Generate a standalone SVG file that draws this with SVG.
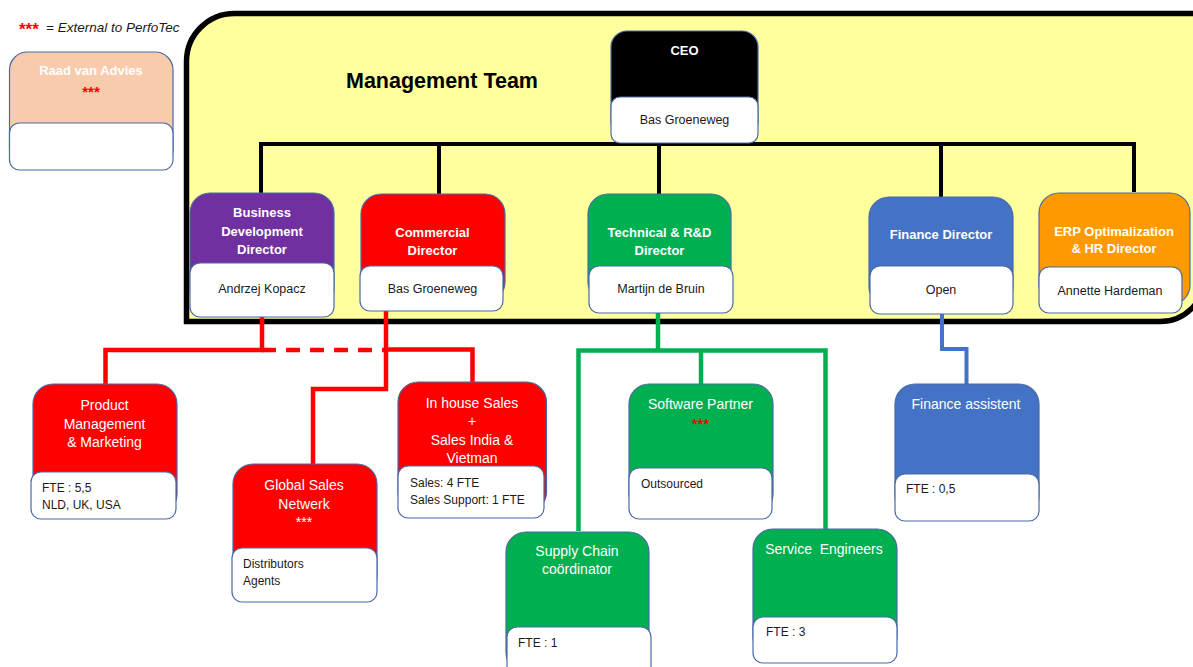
<svg xmlns="http://www.w3.org/2000/svg" width="1193" height="667" viewBox="0 0 1193 667">
<style>
text{font-family:"Liberation Sans",Arial,sans-serif}
.bx{stroke:#4A6AA5;stroke-width:1.2}
.wh{fill:#FFFFFF;stroke:#4A6AA5;stroke-width:1.2}
.tb{fill:#FFFFFF;font-size:13px;font-weight:bold;text-anchor:middle}
.tl{fill:#FFFFFF;font-size:14px;text-anchor:middle}
.nm{fill:#1A1A1A;font-size:12.5px;text-anchor:middle}
.in{fill:#1A1A1A;font-size:12px}
.ast{fill:#FF0000;font-size:15px;font-weight:bold;text-anchor:middle}
.k{fill:none;stroke:#000000;stroke-width:4}
.r{fill:none;stroke:#FF0000;stroke-width:4.5}
.g{fill:none;stroke:#00B050;stroke-width:4.5}
.b{fill:none;stroke:#4472C4;stroke-width:4}
</style>

<g id="legend">
<text x="19" y="35" font-size="17" font-weight="bold" fill="#FF0000">***</text>
<text x="46" y="32" font-size="13.5" font-style="italic" fill="#1A1A1A">= External to PerfoTec</text>
</g>

<g id="management-team">
<path d="M186.5,321.5 V61.5 A48,48 0 0 1 234.5,13.5 H1205 V276.5 A45,45 0 0 1 1160,321.5 Z" fill="#FFFF9E" stroke="#000000" stroke-width="5.5"/>
<text x="346" y="88" font-size="21.5" font-weight="bold" fill="#000000">Management Team</text>
</g>

<g id="raad-van-advies">
<rect class="bx" x="9.5" y="52" width="163.5" height="116" rx="18" fill="#F8CBAD"/>
<rect class="wh" x="9.5" y="123" width="163.5" height="47" rx="10"/>
<text class="tb" x="91" y="75">Raad van Advies</text>
<text class="ast" x="91" y="97">***</text>
</g>

<g id="connectors">
<path class="k" d="M261,193 V144 H1134 V192"/>
<path class="k" d="M439,146 V194"/>
<path class="k" d="M659,143 V194"/>
<path class="k" d="M941,144 V197"/>
<path class="r" d="M262,317 V350 H105.5 V384"/>
<path class="r" d="M262,350 H386" stroke-dasharray="14 10"/>
<path class="r" d="M386,306 V389 H313 V464"/>
<path class="r" d="M386,349.5 H472.5 V382"/>
<path class="g" d="M658,312 V350" stroke-width="6"/>
<path class="g" d="M578.5,531 V350.5 H825.5 V529"/>
<path class="g" d="M701,350.5 V384" stroke-width="4"/>
<path class="b" d="M942,314 V349 H966.5 V384"/>
</g>

<g id="ceo">
<rect class="bx" x="611" y="31" width="147" height="106" rx="16" fill="#000000"/>
<rect class="wh" x="611" y="97" width="147" height="46" rx="9"/>
<text class="tb" x="684.5" y="55">CEO</text>
<text class="nm" x="684.5" y="124">Bas Groeneweg</text>
</g>

<g id="business-development-director">
<rect class="bx" x="190" y="193" width="144" height="116" rx="20" fill="#7030A0"/>
<rect class="wh" x="190" y="263" width="144" height="54" rx="10"/>
<text class="tb" x="262" y="217">Business</text>
<text class="tb" x="262" y="235.5">Development</text>
<text class="tb" x="262" y="254">Director</text>
<text class="nm" x="262" y="293">Andrzej Kopacz</text>
</g>

<g id="commercial-director">
<rect class="bx" x="361" y="194" width="144" height="108" rx="20" fill="#FF0000"/>
<rect class="wh" x="360" y="266" width="143" height="45" rx="10"/>
<text class="tb" x="432.5" y="237">Commercial</text>
<text class="tb" x="432.5" y="255">Director</text>
<text class="nm" x="432.5" y="293">Bas Groeneweg</text>
</g>

<g id="technical-rd-director">
<rect class="bx" x="588" y="194" width="143" height="108" rx="20" fill="#00B050"/>
<rect class="wh" x="589" y="266" width="144" height="47" rx="10"/>
<text class="tb" x="659.5" y="237">Technical &amp; R&amp;D</text>
<text class="tb" x="659.5" y="255">Director</text>
<text class="nm" x="661" y="293">Martijn de Bruin</text>
</g>

<g id="finance-director">
<rect class="bx" x="869" y="197" width="144" height="110" rx="20" fill="#4472C4"/>
<rect class="wh" x="870" y="266" width="143" height="48" rx="10"/>
<text class="tb" x="941" y="239">Finance Director</text>
<text class="nm" x="941" y="294">Open</text>
</g>

<g id="erp-hr-director">
<rect class="bx" x="1039" y="193" width="151" height="112" rx="20" fill="#FF9900"/>
<rect class="wh" x="1039" y="267" width="143" height="46" rx="10"/>
<text class="tb" x="1114" y="235.5">ERP Optimalization</text>
<text class="tb" x="1114" y="253">&amp; HR Director</text>
<text class="nm" x="1110" y="295">Annette Hardeman</text>
</g>

<g id="product-management">
<rect class="bx" x="33" y="384" width="144" height="130" rx="20" fill="#FF0000"/>
<rect class="wh" x="31" y="472" width="145" height="47" rx="10"/>
<text class="tl" x="104.5" y="410">Product</text>
<text class="tl" x="104.5" y="428.5">Management</text>
<text class="tl" x="104.5" y="447">&amp; Marketing</text>
<text class="in" x="42" y="491.5">FTE : 5,5</text>
<text class="in" x="42" y="508.5">NLD, UK, USA</text>
</g>

<g id="global-sales-netwerk">
<rect class="bx" x="233" y="464" width="144" height="132" rx="20" fill="#FF0000"/>
<rect class="wh" x="232" y="548" width="145" height="54" rx="10"/>
<text class="tl" x="304" y="489.5">Global Sales</text>
<text class="tl" x="304" y="508.5">Netwerk</text>
<text class="tl" x="304" y="527" font-size="13">***</text>
<text class="in" x="243" y="568">Distributors</text>
<text class="in" x="243" y="585">Agents</text>
</g>

<g id="in-house-sales">
<rect class="bx" x="398" y="382" width="148.5" height="130" rx="20" fill="#FF0000"/>
<text class="tl" x="472" y="407.5">In house Sales</text>
<text class="tl" x="472" y="426">+</text>
<text class="tl" x="472" y="444.5">Sales India &amp;</text>
<text class="tl" x="472" y="462.5">Vietman</text>
<rect class="wh" x="398" y="466" width="146" height="52" rx="10"/>
<text class="in" x="410" y="486.5">Sales: 4 FTE</text>
<text class="in" x="410" y="503.5">Sales Support: 1 FTE</text>
</g>

<g id="software-partner">
<rect class="bx" x="629" y="384" width="144" height="130" rx="20" fill="#00B050"/>
<rect class="wh" x="629" y="468" width="143" height="51" rx="10"/>
<text class="tl" x="700.5" y="409">Software Partner</text>
<text class="ast" x="700.5" y="429">***</text>
<text class="in" x="641" y="487.5">Outsourced</text>
</g>

<g id="supply-chain">
<rect class="bx" x="506" y="532" width="143" height="140" rx="20" fill="#00B050"/>
<rect class="wh" x="507" y="627" width="144" height="50" rx="10"/>
<text class="tl" x="577" y="556">Supply Chain</text>
<text class="tl" x="577" y="574">coördinator</text>
<text class="in" x="518" y="646.5">FTE : 1</text>
</g>

<g id="service-engineers">
<rect class="bx" x="753" y="529" width="144" height="128" rx="20" fill="#00B050"/>
<rect class="wh" x="753" y="617" width="144" height="46" rx="10"/>
<text class="tl" x="824" y="553.5" xml:space="preserve">Service  Engineers</text>
<text class="in" x="766" y="636">FTE : 3</text>
</g>

<g id="finance-assistent">
<rect class="bx" x="895" y="384" width="144" height="132" rx="20" fill="#4472C4"/>
<rect class="wh" x="895" y="474" width="144" height="47" rx="10"/>
<text class="tl" x="966" y="409">Finance assistent</text>
<text class="in" x="906" y="492.5">FTE : 0,5</text>
</g>
</svg>
